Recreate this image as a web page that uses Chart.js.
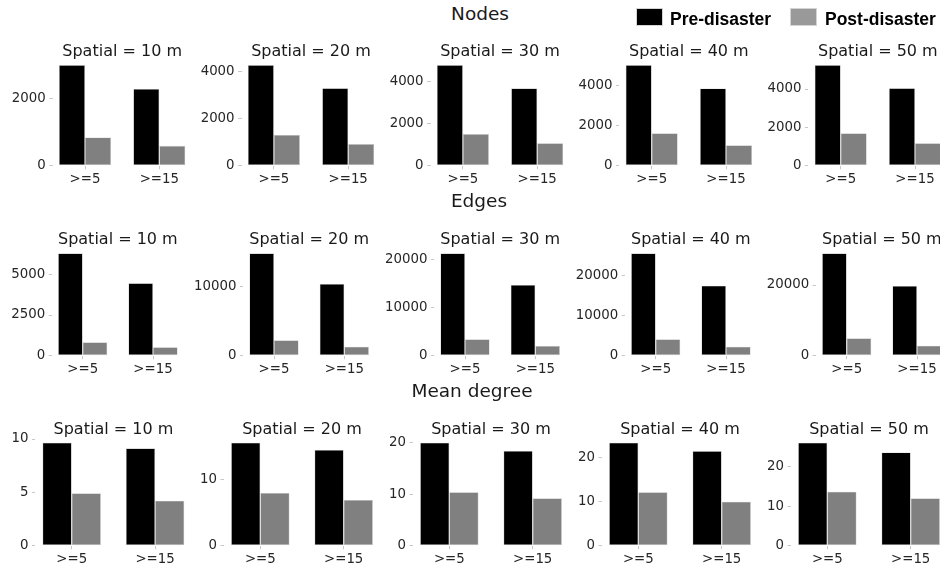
<!DOCTYPE html>
<html><head><meta charset="utf-8">
<script src="https://cdn.jsdelivr.net/npm/chart.js@4.4.0/dist/chart.umd.min.js"></script>
<style>
html,body{margin:0;padding:0;background:#fff;}
body{width:940px;height:566px;position:relative;overflow:hidden;}
canvas{position:absolute;}
.t{position:absolute;white-space:nowrap;transform:translateX(-50%);line-height:1;color:#1a1a1a;font-family:'DejaVu Sans';}
.lg{position:absolute;white-space:nowrap;line-height:1;color:#000;font-family:'Liberation Sans';font-weight:bold;font-size:17.5px;}
.patch{position:absolute;width:27px;height:17.7px;box-sizing:border-box;}
</style></head><body>
<script>
// ---------- data ----------
const categories = ['>=5', '>=15'];
const seriesNames = ['Pre-disaster', 'Post-disaster'];
const sectionTitles = ['Nodes', 'Edges', 'Mean degree'];
const spatialLabels = ['Spatial = 10 m', 'Spatial = 20 m', 'Spatial = 30 m', 'Spatial = 40 m', 'Spatial = 50 m'];

const nodesPre  = [[2990, 2280], [4290, 3300], [4800, 3690], [5040, 3870], [5250, 4040]];
const nodesPost = [[840, 590], [1310, 920], [1510, 1070], [1620, 1020], [1690, 1170]];
const edgesPre  = [[6290, 4450], [14840, 10390], [21200, 14640], [25600, 17500], [28970, 19720]];
const edgesPost = [[820, 520], [2230, 1300], [3400, 2010], [4100, 2250], [4920, 2830]];
const degreePre  = [[9.66, 9.13], [15.5, 14.4], [20.0, 18.4], [23.3, 21.4], [26.1, 23.6]];
const degreePost = [[4.91, 4.22], [7.94, 6.88], [10.37, 9.2], [12.08, 9.95], [13.67, 12.0]];

const nodesTicks  = [[0, 2000], [0, 2000, 4000], [0, 2000, 4000], [0, 2000, 4000], [0, 2000, 4000]];
const edgesTicks  = [[0, 2500, 5000], [0, 10000], [0, 10000, 20000], [0, 10000, 20000], [0, 20000]];
const degreeTicks = [[0, 5, 10], [0, 10], [0, 10, 20], [0, 10, 20], [0, 10, 20]];

// ---------- layout (positions / styles) ----------
const rowLayout = [
  {areaTop: 60.0, areaH: 105.7, c1: [85, 273.9, 462.9, 651.7, 840.7], s: 74.3, titleBase: 56.7, secCx: 480, secBase: 20.5},
  {areaTop: 248.2, areaH: 107.5, c1: [82.7, 274, 465, 655.7, 846.7], s: 70.3, titleBase: 245.0, secCx: 479, secBase: 207.7},
  {areaTop: 437.5, areaH: 108.2, c1: [71.7, 260.3, 449.3, 638.3, 827.3], s: 83.4, titleBase: 434.3, secCx: 472, secBase: 397.7}
];
const rowsData = [
  {pre: nodesPre, post: nodesPost, ticks: nodesTicks},
  {pre: edgesPre, post: edgesPost, ticks: edgesTicks},
  {pre: degreePre, post: degreePost, ticks: degreeTicks}
];
const XMARGIN = 0.435;
const TEXT = '#262626';
const TICKC = '#c8c8c8';
const EDGE = '#c4c4c4';

Chart.defaults.font.family = "'DejaVu Sans'";
Chart.defaults.font.size = 13.33;
Chart.defaults.color = TEXT;

function addText(cls, txt, cx, base, size) {
  const d = document.createElement('div');
  d.className = cls;
  d.textContent = txt;
  d.style.fontSize = size + 'px';
  d.style.left = cx + 'px';
  d.style.top = (base - 0.846 * size) + 'px';
  document.body.appendChild(d);
}

function makeChart(r, c) {
  const L = rowLayout[r];
  const D = rowsData[r];
  const s = L.s;
  const areaLeft = L.c1[c] - XMARGIN * s;
  const areaW = (1 + 2 * XMARGIN) * s;
  const cLeft = Math.floor(areaLeft - 60);
  const YW = areaLeft - cLeft;
  const cW = Math.ceil(YW + areaW + 2);
  const PADR = cW - YW - areaW;
  const cTop = Math.floor(L.areaTop - 14);
  const PADT = L.areaTop - cTop;
  const cH = Math.ceil(PADT + L.areaH + 24);
  const XH = cH - PADT - L.areaH;

  const cv = document.createElement('canvas');
  cv.width = cW; cv.height = cH;
  cv.style.left = cLeft + 'px'; cv.style.top = cTop + 'px';
  cv.style.width = cW + 'px'; cv.style.height = cH + 'px';
  document.body.appendChild(cv);

  const pre = D.pre[c], post = D.post[c], tks = D.ticks[c];
  const ymax = 1.05 * Math.max(...pre, ...post);

  new Chart(cv, {
    type: 'bar',
    data: {
      datasets: [
        {label: seriesNames[0], data: pre.map((v, i) => ({x: i, y: v})), backgroundColor: '#000000',
         borderColor: EDGE, borderWidth: 0.6, borderSkipped: false, categoryPercentage: 0.7, barPercentage: 1.0},
        {label: seriesNames[1], data: post.map((v, i) => ({x: i, y: v})), backgroundColor: '#808080',
         borderColor: EDGE, borderWidth: 0.6, borderSkipped: false, categoryPercentage: 0.7, barPercentage: 1.0}
      ]
    },
    options: {
      responsive: false, animation: false, devicePixelRatio: 1,
      layout: {padding: {top: PADT, right: PADR, left: 0, bottom: 0}},
      plugins: {legend: {display: false}, tooltip: {enabled: false}, title: {display: false}},
      scales: {
        x: {
          type: 'linear', min: -XMARGIN, max: 1 + XMARGIN, offset: false,
          afterBuildTicks: sc => { sc.ticks = categories.map((_, i) => ({value: i})); },
          afterFit: sc => { sc.height = XH; },
          ticks: {callback: v => categories[v], padding: 2, color: TEXT, maxRotation: 0, autoSkip: false, font: {size: 13.33}},
          grid: {display: true, offset: false, drawOnChartArea: false, drawTicks: true, tickLength: 3.5, color: TICKC},
          border: {display: false}
        },
        y: {
          type: 'linear', min: 0, max: ymax,
          afterBuildTicks: sc => { sc.ticks = tks.map(v => ({value: v})); },
          afterFit: sc => { sc.width = YW; },
          ticks: {callback: v => String(v), padding: 3.5, color: TEXT, font: {size: 13.33}},
          grid: {display: true, drawOnChartArea: false, drawTicks: true, tickLength: 3.5, color: TICKC},
          border: {display: false}
        }
      }
    }
  });

  addText('t', spatialLabels[c], L.c1[c] + s / 2, L.titleBase, 16);
}

for (let r = 0; r < 3; r++) {
  addText('t', sectionTitles[r], rowLayout[r].secCx, rowLayout[r].secBase, 18.5);
  for (let c = 0; c < 5; c++) makeChart(r, c);
}

// legend
const legendItems = [
  {name: seriesNames[0], color: '#000000', px: 635.7, tx: 670},
  {name: seriesNames[1], color: '#999999', px: 790, tx: 825}
];
legendItems.forEach(it => {
  const p = document.createElement('div');
  p.className = 'patch';
  p.style.left = it.px + 'px'; p.style.top = '8.3px'; p.style.background = it.color;
  p.style.border = '1px solid #d4d4d4';
  document.body.appendChild(p);
  const t = document.createElement('div');
  t.className = 'lg';
  t.textContent = it.name;
  t.style.left = it.tx + 'px';
  t.style.top = (25.5 - 0.846 * 17.5) + 'px';
  document.body.appendChild(t);
});
</script>
</body></html>
